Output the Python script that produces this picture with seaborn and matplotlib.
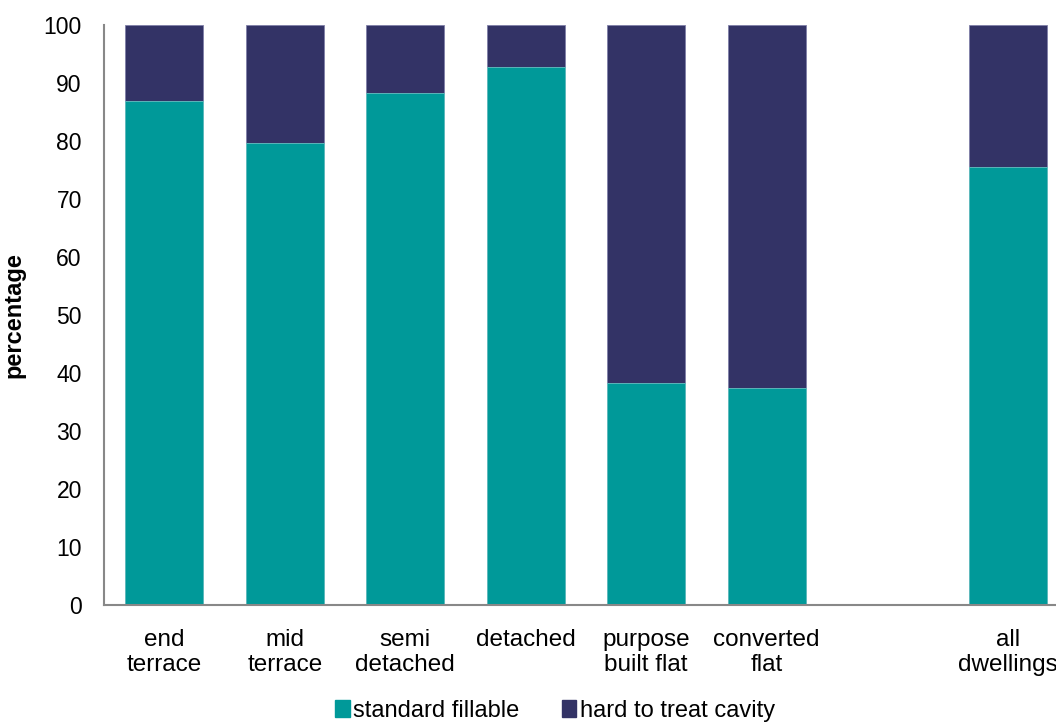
import matplotlib
matplotlib.use("Agg")
import matplotlib.pyplot as plt
import seaborn as sns
import pandas as pd
import numpy as np
from matplotlib.patches import Patch

categories = ["end\nterrace", "mid\nterrace", "semi\ndetached", "detached",
              "purpose\nbuilt flat", "converted\nflat", " ", "all\ndwellings"]
standard_fillable = [86.9, 79.7, 88.3, 92.8, 38.3, 37.4, np.nan, 75.5]
hard_to_treat = [13.1, 20.3, 11.7, 7.2, 61.7, 62.6, np.nan, 24.5]
yticks = [0, 10, 20, 30, 40, 50, 60, 70, 80, 90, 100]

teal = "#009999"
navy = "#333366"

sns.set_theme(style="white")
plt.rcParams["font.family"] = ["Liberation Sans", "DejaVu Sans"]
plt.rcParams["text.color"] = "black"

df = pd.DataFrame({"cat": categories, "standard": standard_fillable, "hard": hard_to_treat})
df["total"] = df["standard"] + df["hard"]

fig = plt.figure(figsize=(10.56, 7.22), dpi=100)
ax = fig.add_axes([104/1056, 117/722, 964/1056, 580/722])

sns.barplot(data=df, x="cat", y="total", order=categories, color=navy, width=0.65,
            saturation=1, edgecolor="#8080a8", linewidth=0.6, ax=ax)
sns.barplot(data=df, x="cat", y="standard", order=categories, color=teal, width=0.65,
            saturation=1, edgecolor="#66c2c2", linewidth=0.6, ax=ax)

ax.set_xlim(-0.5, 7.5)
ax.set_ylim(0, 100)
ax.set_yticks(yticks)
ax.set_yticklabels([str(v) for v in yticks], fontsize=16.5, color="black")
ax.set_xticks(range(len(categories)))
ax.set_xticklabels(categories, fontsize=17.5, linespacing=1.2, color="black")
ax.tick_params(axis="x", which="major", length=0, pad=17)
ax.set_xticks(np.arange(-0.5, 8.0, 1.0), minor=True)
ax.tick_params(axis="x", which="minor", length=8, width=1.2, color="#888888", direction="out")
ax.tick_params(axis="y", length=7, width=1.2, color="#888888", direction="out", pad=9)

for s in ["top", "right"]:
    ax.spines[s].set_visible(False)
for s in ["left", "bottom"]:
    ax.spines[s].set_color("#888888")
    ax.spines[s].set_linewidth(1.5)

ax.set_xlabel("")
ax.set_ylabel("percentage", fontsize=17, fontweight="bold", color="black")
ax.yaxis.set_label_coords(-79/964, 0.5)

handles = [Patch(facecolor=teal, edgecolor=teal), Patch(facecolor=navy, edgecolor=navy)]
fig.legend(handles, ["standard fillable", "hard to treat cavity"], loc="center",
           bbox_to_anchor=(555/1056, 1 - 711/722), ncol=2, frameon=False, fontsize=17,
           handlelength=0.6, handleheight=0.7, handletextpad=0.15, columnspacing=1.8)

fig.savefig("out.png", dpi=100)
